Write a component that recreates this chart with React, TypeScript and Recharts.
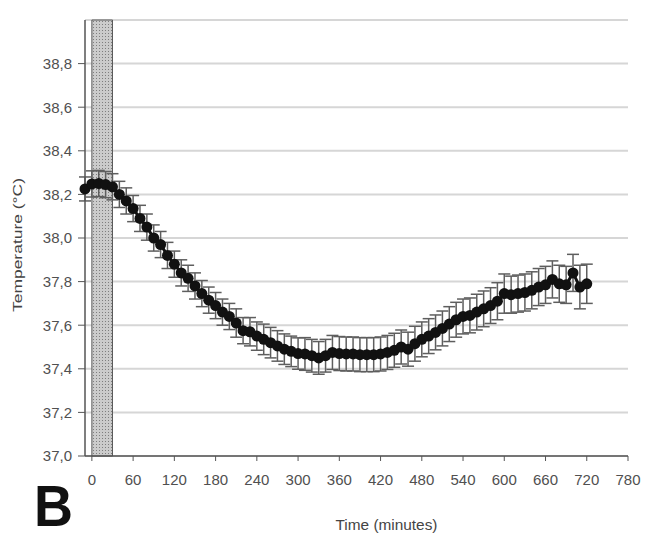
import {
  ComposedChart,
  Line,
  XAxis,
  YAxis,
  CartesianGrid,
  ReferenceArea,
  ErrorBar,
} from "recharts";

const times = [
  -10, 0, 10, 20, 30, 40, 50, 60, 70, 80, 90, 100, 110, 120, 130, 140, 150,
  160, 170, 180, 190, 200, 210, 220, 230, 240, 250, 260, 270, 280, 290, 300,
  310, 320, 330, 340, 350, 360, 370, 380, 390, 400, 410, 420, 430, 440, 450,
  460, 470, 480, 490, 500, 510, 520, 530, 540, 550, 560, 570, 580, 590, 600,
  610, 620, 630, 640, 650, 660, 670, 680, 690, 700, 710, 720,
];

const temps = [
  38.225, 38.248, 38.25, 38.245, 38.235, 38.2, 38.17, 38.135, 38.09, 38.05,
  38.0, 37.97, 37.92, 37.88, 37.84, 37.815, 37.78, 37.745, 37.715, 37.69,
  37.66, 37.64, 37.61, 37.575, 37.57, 37.55, 37.535, 37.52, 37.505, 37.49,
  37.48, 37.47, 37.468, 37.46, 37.45, 37.46, 37.475, 37.47, 37.468, 37.468,
  37.465, 37.465, 37.465, 37.468, 37.475, 37.485, 37.5, 37.49, 37.515, 37.535,
  37.55, 37.567, 37.585, 37.605, 37.625, 37.64, 37.645, 37.66, 37.675, 37.69,
  37.71, 37.745, 37.74, 37.745, 37.75, 37.76, 37.775, 37.785, 37.81, 37.79,
  37.785, 37.84, 37.775, 37.79,
];

const errors = [
  0.055, 0.06, 0.06, 0.06, 0.06, 0.06, 0.06, 0.06, 0.06, 0.06, 0.06, 0.06,
  0.06, 0.06, 0.06, 0.06, 0.06, 0.06, 0.06, 0.06, 0.06, 0.06, 0.065, 0.06,
  0.065, 0.065, 0.07, 0.07, 0.07, 0.07, 0.07, 0.072, 0.075, 0.075, 0.075,
  0.075, 0.078, 0.078, 0.078, 0.078, 0.078, 0.078, 0.078, 0.078, 0.078, 0.078,
  0.078, 0.078, 0.08, 0.08, 0.08, 0.08, 0.08, 0.08, 0.08, 0.08, 0.08, 0.082,
  0.082, 0.082, 0.085, 0.09, 0.085, 0.085, 0.085, 0.085, 0.085, 0.085, 0.085,
  0.085, 0.085, 0.085, 0.1, 0.09,
];

const xTicks = [0, 60, 120, 180, 240, 300, 360, 420, 480, 540, 600, 660, 720, 780];
const yTicks = [37.0, 37.2, 37.4, 37.6, 37.8, 38.0, 38.2, 38.4, 38.6, 38.8];
const stimStart = 0;
const stimEnd = 30;

const data = times.map((t, i) => ({ time: t, temp: temps[i], err: errors[i] }));

const font = "'Liberation Sans', Arial, sans-serif";
const tickStyle = { fontSize: 15, fill: "#505050", fontFamily: font };

function XTitle(props: any) {
  const vb = props.viewBox || { x: 0, y: 0, width: 0, height: 0 };
  return (
    <g>
      <text
        x={vb.x + vb.width / 2 + 30}
        y={vb.y + 74}
        textAnchor="middle"
        fontSize={15}
        fill="#444"
        fontFamily={font}
        textLength={102}
        lengthAdjust="spacingAndGlyphs"
      >
        Time (minutes)
      </text>
      <text
        x={34}
        y={526}
        fontSize={58}
        fontWeight="bold"
        fill="#111"
        fontFamily={font}
        textLength={39}
        lengthAdjust="spacingAndGlyphs"
      >
        B
      </text>
    </g>
  );
}

function YTitle() {
  const cx = 22;
  const cy = 245;
  return (
    <text
      x={cx}
      y={cy}
      transform={`rotate(-90 ${cx} ${cy})`}
      textAnchor="middle"
      fontSize={13}
      fill="#444"
      fontFamily={font}
      textLength={134}
      lengthAdjust="spacingAndGlyphs"
    >
      Temperature (°C)
    </text>
  );
}

export default function App() {
  return (
    <div
      style={{
        position: "absolute",
        left: 0,
        top: 0,
        width: 646,
        height: 538,
        background: "#fff",
      }}
    >
      <ComposedChart
        width={646}
        height={538}
        data={data}
        margin={{ top: 20, right: 18, bottom: 0, left: 0 }}
      >
        <defs>
          <pattern id="dots" width="3" height="3" patternUnits="userSpaceOnUse">
            <rect width="3" height="3" fill="#cbcbcb" />
            <rect width="1" height="1" fill="#7e7e7e" />
          </pattern>
        </defs>
        <CartesianGrid vertical={false} stroke="#d6d6d6" strokeWidth={2} />
        <XAxis
          dataKey="time"
          type="number"
          domain={[-10, 780]}
          ticks={xTicks}
          interval={0}
          height={82}
          tickSize={5}
          tickMargin={13}
          tick={tickStyle}
          axisLine={{ stroke: "#555", strokeWidth: 1.5 }}
          tickLine={{ stroke: "#555" }}
          label={<XTitle />}
        />
        <YAxis
          type="number"
          domain={[37, 39]}
          ticks={yTicks}
          interval={0}
          width={85}
          tickSize={7}
          tickMargin={6}
          tick={tickStyle}
          tickFormatter={(v: number) => v.toFixed(1).replace(".", ",")}
          axisLine={{ stroke: "#555", strokeWidth: 1.5 }}
          tickLine={{ stroke: "#555" }}
          allowDataOverflow
          label={<YTitle />}
        />
        <ReferenceArea
          x1={stimStart}
          x2={stimEnd}
          y1={37}
          y2={39}
          fill="url(#dots)"
          fillOpacity={1}
          stroke="#5a5a5a"
          strokeWidth={1}
        />
        <Line
          dataKey="temp"
          stroke="#111"
          strokeWidth={3}
          dot={{ r: 5.5, fill: "#111", stroke: "#111", strokeWidth: 0 }}
          isAnimationActive={false}
        >
          <ErrorBar
            dataKey="err"
            width={6}
            stroke="#5e5e5e"
            strokeWidth={1.5}
            direction="y"
            isAnimationActive={false}
          />
        </Line>
      </ComposedChart>
    </div>
  );
}
